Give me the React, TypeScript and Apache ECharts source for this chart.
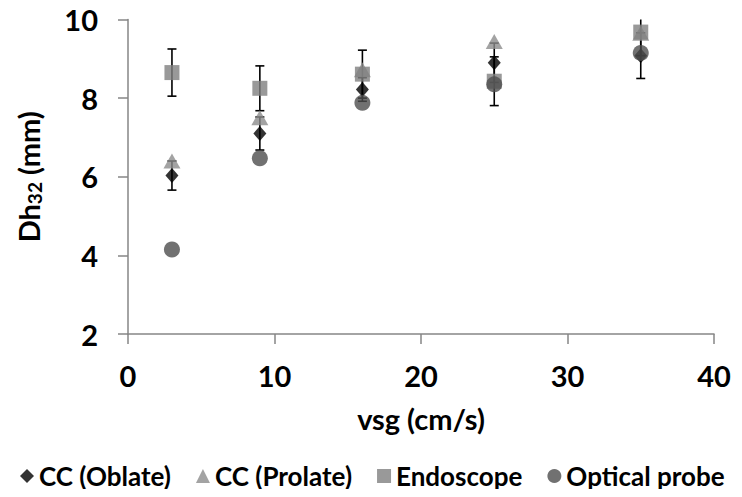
import React, { useEffect, useRef } from "react";
import * as echarts from "echarts";

const xValues = [3, 9, 16, 25, 35];
const oblate = [6.03, 7.1, 8.22, 8.9, 9.08];
const oblateErr = [0.37, 0.42, 0.3, 0.5, 0.58];
const prolate = [6.4, 7.5, 8.72, 9.44, 9.65];
const endoscope = [8.65, 8.25, 8.61, 8.43, 9.68];
const endoscopeErr = [0.6, 0.57, 0.61, 0.62, 0.6];
const optical = [4.15, 6.47, 7.88, 8.35, 9.15];

const X_MIN = 0;
const X_MAX = 40;
const Y_MIN = 2;
const Y_MAX = 10;

const FONT = "Lato, 'Open Sans', sans-serif";

const pairs = (ys: number[]) => xValues.map((x, i) => [x, ys[i]]);
const errData = (ys: number[], es: number[]) =>
  xValues.map((x, i) => [x, ys[i] - es[i], ys[i] + es[i]]);

const errorRender = (params: any, api: any) => {
  const x = api.value(0);
  const lo = api.value(1);
  const hi = api.value(2);
  const top = Math.min(hi, Y_MAX);
  const pTop = api.coord([x, top]);
  const pBot = api.coord([x, lo]);
  const half = 4.5;
  const style = { stroke: "#000", lineWidth: 1.6 };
  const children: any[] = [
    { type: "line", shape: { x1: pTop[0], y1: pTop[1], x2: pBot[0], y2: pBot[1] }, style },
    { type: "line", shape: { x1: pBot[0] - half, y1: pBot[1], x2: pBot[0] + half, y2: pBot[1] }, style },
  ];
  if (hi <= Y_MAX) {
    children.push({
      type: "line",
      shape: { x1: pTop[0] - half, y1: pTop[1], x2: pTop[0] + half, y2: pTop[1] },
      style,
    });
  }
  return { type: "group", children };
};

export default function App() {
  const ref = useRef<HTMLDivElement>(null);
  useEffect(() => {
    if (!ref.current) return;
    const chart = echarts.init(ref.current, null, { renderer: "svg" });
    chart.setOption({
      animation: false,
      backgroundColor: "#fff",
      grid: { left: 128, right: 28, top: 19.5, bottom: 163, containLabel: false },
      legend: {
        bottom: 3,
        left: 15,
        width: 727,
        padding: 5,
        itemWidth: 14,
        itemHeight: 14,
        itemGap: 25,
        textStyle: { fontFamily: FONT, fontWeight: "bold", fontSize: 26, color: "#000" },
        data: ["CC (Oblate)", "CC (Prolate)", "Endoscope", "Optical probe"],
      },
      xAxis: {
        type: "value",
        min: X_MIN,
        max: X_MAX,
        interval: 10,
        splitLine: { show: false },
        axisLine: { show: true, onZero: false, lineStyle: { color: "#868686", width: 1.5 } },
        axisTick: { show: true, length: 10, inside: false, lineStyle: { color: "#868686", width: 1.5 } },
        axisLabel: { color: "#000", fontFamily: FONT, fontWeight: "bold", fontSize: 29, margin: 27 },
        name: "vsg (cm/s)",
        nameLocation: "middle",
        nameGap: 70,
        nameTextStyle: { color: "#000", fontFamily: FONT, fontWeight: "bold", fontSize: 29 },
      },
      yAxis: {
        type: "value",
        min: Y_MIN,
        max: Y_MAX,
        interval: 2,
        splitLine: { show: false },
        axisLine: { show: true, onZero: false, lineStyle: { color: "#868686", width: 1.5 } },
        axisTick: { show: true, length: 10, inside: false, lineStyle: { color: "#868686", width: 1.5 } },
        axisLabel: { color: "#000", fontFamily: FONT, fontWeight: "bold", fontSize: 29, margin: 30 },
        name: "{a|Dh}{s|32}{a| (mm)}",
        nameLocation: "middle",
        nameRotate: 90,
        nameGap: 84,
        nameTextStyle: {
          color: "#000",
          rich: {
            a: { fontFamily: FONT, fontWeight: "bold", fontSize: 29, color: "#000", lineHeight: 32 },
            s: {
              fontFamily: FONT,
              fontWeight: "bold",
              fontSize: 19,
              color: "#000",
              verticalAlign: "bottom",
              lineHeight: 32,
              padding: [12, 0, 0, 0],
            },
          },
        },
      },
      series: [
        {
          name: "oblateErr",
          type: "custom",
          renderItem: errorRender,
          data: errData(oblate, oblateErr),
          encode: { x: 0, y: [1, 2] },
          silent: true,
        },
        {
          name: "CC (Oblate)",
          type: "scatter",
          symbol: "diamond",
          symbolSize: [13, 15],
          itemStyle: { color: "#000" },
          data: pairs(oblate),
        },
        {
          name: "CC (Prolate)",
          type: "scatter",
          symbol: "triangle",
          symbolSize: [17, 15],
          itemStyle: { color: "#8c8c8c" },
          data: pairs(prolate),
        },
        {
          name: "endoErr",
          type: "custom",
          renderItem: errorRender,
          data: errData(endoscope, endoscopeErr),
          encode: { x: 0, y: [1, 2] },
          silent: true,
        },
        {
          name: "Endoscope",
          type: "scatter",
          symbol: "rect",
          symbolSize: 15,
          itemStyle: { color: "#808080" },
          data: pairs(endoscope),
        },
        {
          name: "Optical probe",
          type: "scatter",
          symbol: "circle",
          symbolSize: 16,
          itemStyle: { color: "#4d4d4d" },
          data: pairs(optical),
        },
      ],
    });
    return () => chart.dispose();
  }, []);
  return <div ref={ref} style={{ width: 742, height: 497, margin: -8 }} />;
}
